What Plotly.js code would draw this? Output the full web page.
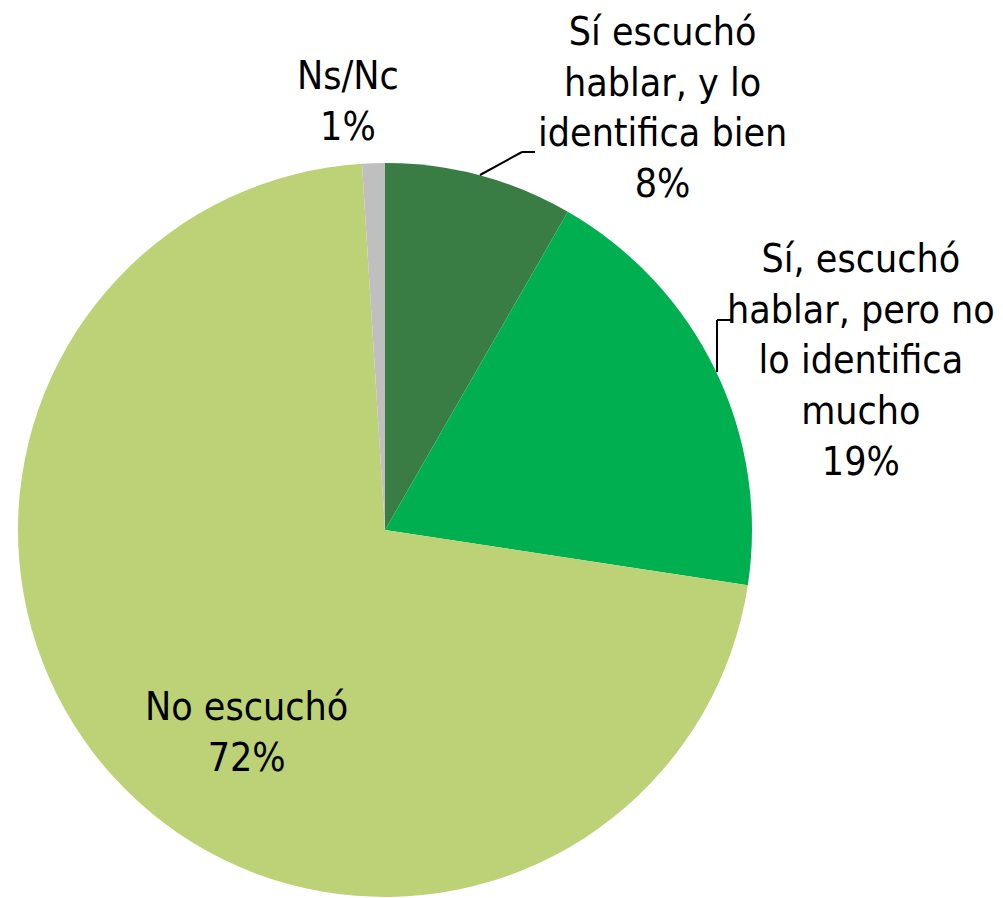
<!DOCTYPE html>
<html>
<head>
<meta charset="utf-8">
<script src="https://cdn.plot.ly/plotly-3.0.1.min.js"></script>
<style>html,body{margin:0;padding:0;background:#fff;}#chart{width:1003px;height:898px;}</style>
</head>
<body>
<div id="chart"></div>
<script>
var categories = ["Sí escuchó<br>hablar, y lo<br>identifica bien", "Sí, escuchó<br>hablar, pero no<br>lo identifica<br>mucho", "No escuchó", "Ns/Nc"];
var values = [8.3, 19.1, 71.6, 1.0];
var percentLabels = ["8%", "19%", "72%", "1%"];
var colors = ["#3A7D44", "#00B050", "#BDD176", "#BFBFBF"];

var W = 1003, H = 898;
function px(x){ return x / W; }
function py(y){ return 1 - y / H; }

var FONT = "'Liberation Sans Narrow', 'DejaVu Sans Condensed', 'Arial Narrow', sans-serif";

// label anchor positions (pixels) for each category
var labelPos = [[662, 107], [861, 360], [246, 732], [348, 101]];

var annotations = categories.map(function(c, i){
  return {
    xref: 'paper', yref: 'paper',
    x: px(labelPos[i][0]), y: py(labelPos[i][1]),
    xanchor: 'center', yanchor: 'middle',
    text: c + '<br>' + percentLabels[i],
    showarrow: false,
    align: 'center',
    font: {family: FONT, size: 39, color: '#000'}
  };
});

var leaders = [
  [[480,175],[522,152],[535,152]],
  [[717,372],[717,320],[732,320]]
];
var shapes = [];
leaders.forEach(function(pts){
  for (var k = 0; k < pts.length - 1; k++) {
    shapes.push({type: 'line', xref: 'paper', yref: 'paper',
      x0: px(pts[k][0]), y0: py(pts[k][1]), x1: px(pts[k+1][0]), y1: py(pts[k+1][1]),
      line: {color: '#000', width: 2}});
  }
});

var data = [{
  type: 'pie',
  labels: categories,
  values: values,
  sort: false,
  direction: 'clockwise',
  rotation: 0,
  marker: {colors: colors, line: {width: 0}},
  textinfo: 'none',
  hoverinfo: 'label+percent',
  domain: {x: [px(18), px(752)], y: [py(897), py(163)]},
  showlegend: false
}];

var layout = {
  width: W, height: H,
  margin: {l: 0, r: 0, t: 0, b: 0},
  paper_bgcolor: '#fff',
  showlegend: false,
  annotations: annotations,
  shapes: shapes
};

Plotly.newPlot('chart', data, layout, {displayModeBar: false, staticPlot: true});
</script>
</body>
</html>
